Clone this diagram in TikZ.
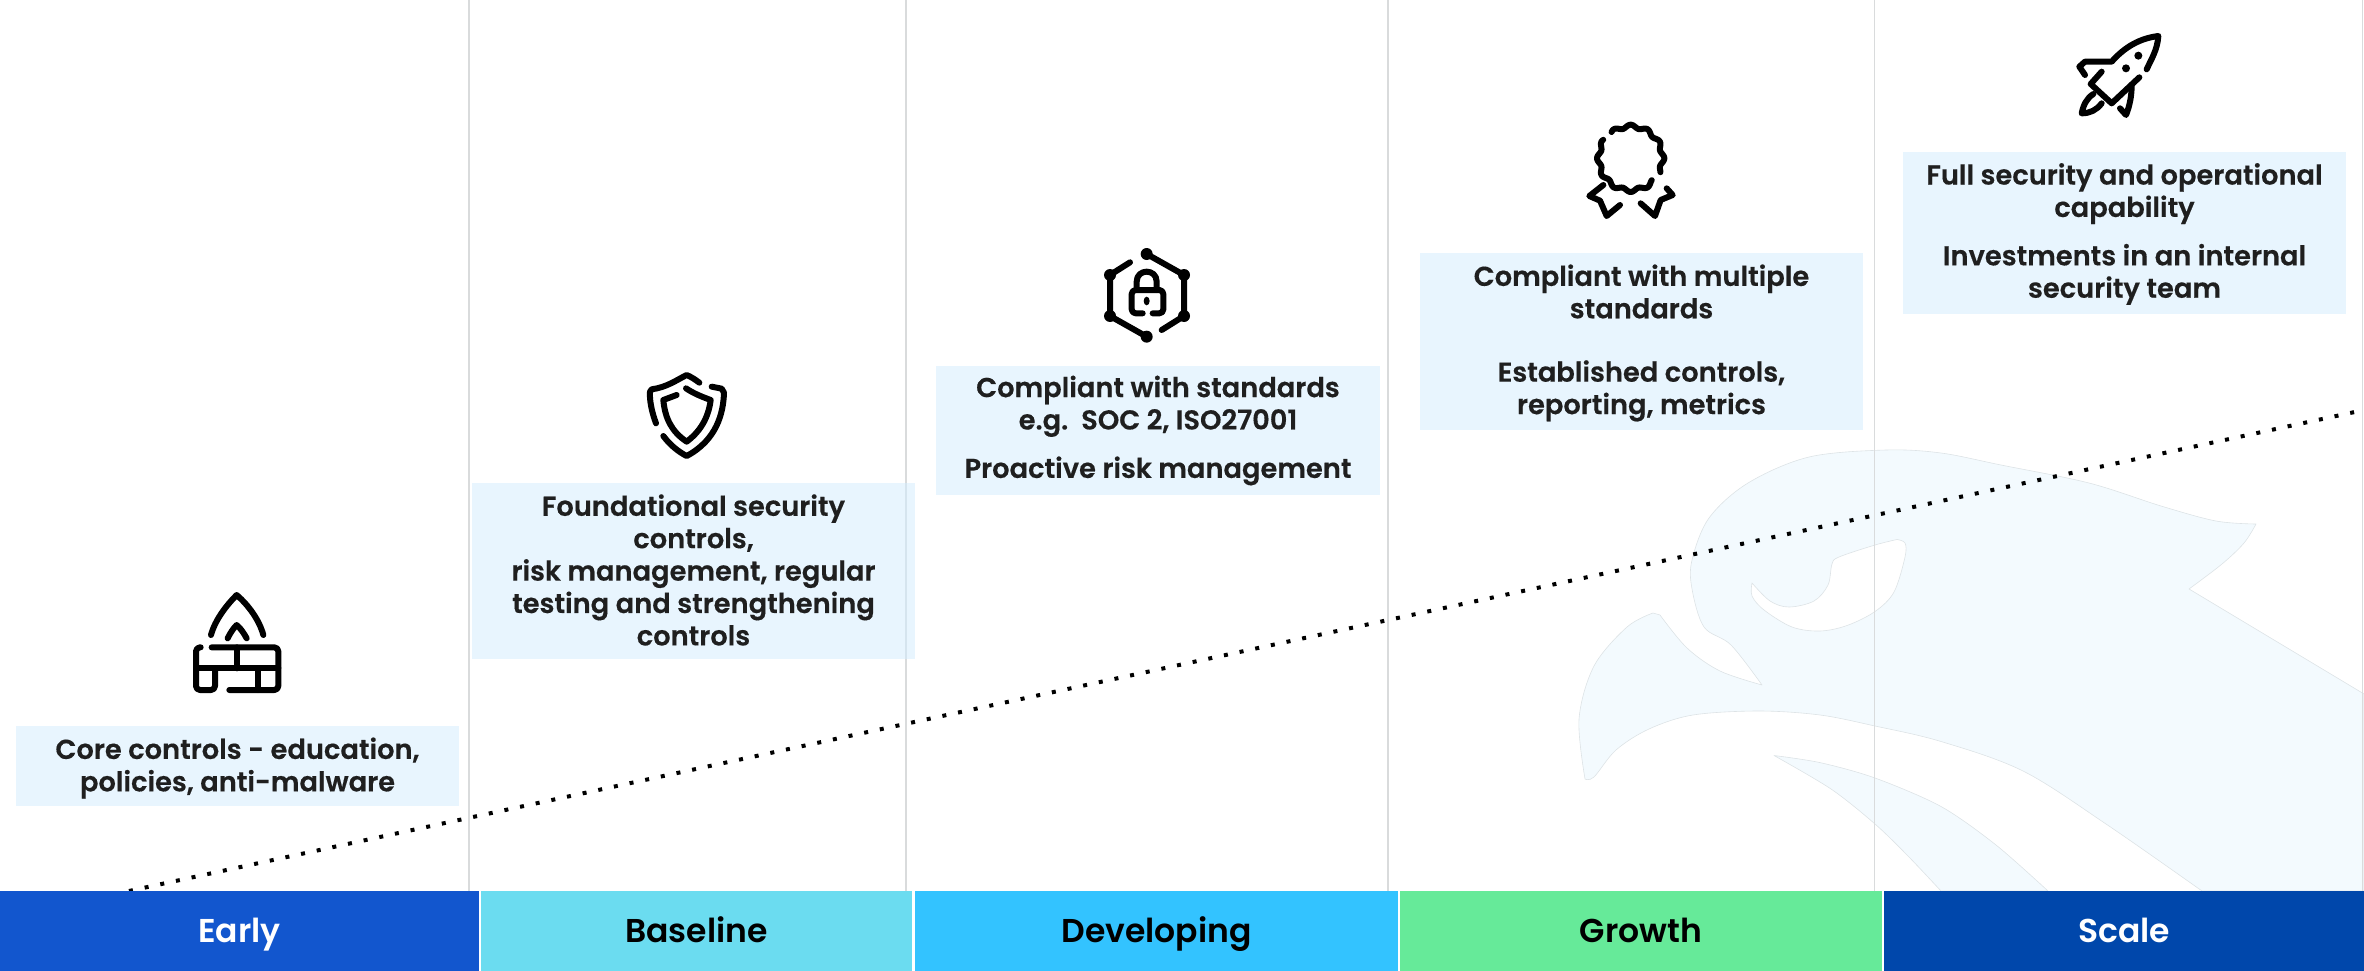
\documentclass[tikz,border=0pt]{standalone}
\usepackage{fontspec}
\setmainfont{Poppins}[UprightFont=* SemiBold,BoldFont=* SemiBold]
\newfontfamily\semifont{Poppins SemiBold}
\newfontfamily\heavyfont{Poppins SemiBold}[FakeBold=0.4]
\definecolor{boxblue}{HTML}{E8F5FE}
\definecolor{gridgrey}{HTML}{D9DBDC}
\definecolor{gridonbox}{HTML}{D5E4EE}
\definecolor{ink}{HTML}{1F1F1F}
\definecolor{eaglefill}{HTML}{F3FAFE}
\definecolor{eagleline}{HTML}{DDE3E6}
\definecolor{cEarly}{HTML}{1256CE}
\definecolor{cBase}{HTML}{6BDCF0}
\definecolor{cDev}{HTML}{33C3FF}
\definecolor{cGrowth}{HTML}{66EA99}
\definecolor{cScale}{HTML}{0047AB}
\tikzset{
 boxbg/.style={fill=boxblue,inner sep=0pt},
 textbox/.style={inner sep=0pt,align=center,text=ink,font=\heavyfont\fontsize{27.3}{32.4}\selectfont},
 stage/.style={inner sep=0pt,minimum height=80pt,text height=30pt,text depth=7pt,font=\semifont\fontsize{33}{36}\selectfont},
 gridline/.style={gridgrey,line width=1.6pt},
 eagle/.style={fill=eaglefill,draw=eagleline,line width=0.6pt,line join=round},
 iconline/.style={line width=6pt,line cap=round,line join=round,black},
 icon/.style={x=0.33333pt,y=-0.33333pt},
}
\begin{document}
\begin{tikzpicture}[x=1pt,y=-1pt]
\useasboundingbox (0,0) rectangle (2364,971);
% eagle
\path[eagle] plot[smooth,tension=.55] coordinates {(1585,779)(1579,719)(1594,666)(1627,627)(1653,613)}
 -- plot[smooth,tension=.55] coordinates {(1660,615)(1687,648)(1720,671)(1762,685)}
 -- plot[smooth,tension=.55] coordinates {(1762,685)(1731,645)(1704,627)(1692,589)(1692,560)(1709,518)(1748,483)(1809,457)(1886,450)(1941,453)(2001,465)(2089,483)(2161,506)(2216,521)(2256,524)}
 -- plot[smooth,tension=.55] coordinates {(2256,524)(2244,543)(2222,564)(2189,589)}
 -- (2364,694) -- (2364,891) -- (2202,891)
 -- plot[smooth,tension=.55] coordinates {(2202,891)(2106,824)(2023,771)(1941,741.5)(1875,726)(1820,715)(1759,711)(1693,715)(1649,729)(1616,750)(1594,777)(1585,779)} -- cycle;
\path[fill=white,draw=eagleline,line width=0.6pt] plot[smooth,tension=.55] coordinates {(1897,539.5)(1905,543)(1905,557)(1894,592)(1875,611.5)(1847,625.5)(1820,631)(1792,627)(1764,610)(1752,596)(1752,583)}
 -- plot[smooth,tension=.55] coordinates {(1752,583)(1770,601)(1789,607)(1814,601)(1828,585)(1832,564)(1839,557)(1875,545)(1897,539.5)} -- cycle;
\path[eagle] plot[smooth,tension=.5] coordinates {(1774,755.5)(1820,762.6)(1875,778)(1941,806.5)(1996,845)(2048,891)}
 -- plot[smooth,tension=.5] coordinates {(1941,891)(1908,856)(1875,824)(1831,789)(1774,755.5)} -- cycle;
% grid lines
\foreach \gx/\gn in {469/g1,906/g2,1388/g3,1874.5/g4,2362.5/g5}{
 \coordinate (\gn t) at (\gx,0);
 \coordinate (\gn b) at (\gx,891);
 \draw[gridline] (\gn t) -- (\gn b);
}
% trend line
\coordinate (trendA) at (129,891);
\coordinate (trendB) at (2364,410);
\draw[black,line width=4pt,dash pattern=on 4pt off 12pt] (trendA) -- (trendB);
% stages
\node[stage,fill=cEarly,text=white,minimum width=479pt] (early) at (239.5,931) {Early};
\node[stage,fill=cBase,text=black,minimum width=431pt] (baseline) at (696.5,931) {Baseline};
\node[stage,fill=cDev,text=black,minimum width=483pt] (developing) at (1156.5,931) {Developing};
\node[stage,fill=cGrowth,text=black,minimum width=482pt] (growth) at (1641,931) {Growth};
\node[stage,fill=cScale,text=white,minimum width=480pt] (scale) at (2124,931) {Scale};
% text boxes
\node[boxbg,minimum width=443pt,minimum height=80pt] (b1bg) at (237.5,766) {};
\node[boxbg,minimum width=443pt,minimum height=176pt] (b2bg) at (693.5,571) {};
\node[boxbg,minimum width=444pt,minimum height=129pt] (b3bg) at (1158,430.5) {};
\node[boxbg,minimum width=443pt,minimum height=177pt] (b4bg) at (1641.5,341.5) {};
\node[boxbg,minimum width=443pt,minimum height=162pt] (b5bg) at (2124.5,233) {};
\draw[gridonbox,line width=1.6pt] (b2bg.north -| g2t) -- (b2bg.south -| g2t);
\node[textbox] (b1) at (237.5,768) {Core controls - education,\\policies, anti-malware};
\node[textbox] (b2) at (693.5,570) {Foundational security\\controls,\\risk management, regular\\testing and strengthening\\controls};
\node[textbox] (b3) at (1158,430.5) {Compliant with standards\\e.g.\ \ SOC 2, ISO27001\\[16pt]Proactive risk management};
\node[textbox] (b4) at (1641.5,343) {Compliant with multiple\\standards\\[31pt]Established controls,\\reporting, metrics};
\node[textbox] (b5) at (2124.5,234) {Full security and operational\\capability\\[16pt]Investments in an internal\\security team};
% firewall icon
\begin{scope}[shift={(170,570)},icon]
 \draw[iconline] (123,195) .. controls (135,150) and (170,105) .. (200,75) .. controls (235,105) and (268,150) .. (280,195);
 \draw[iconline] (173,205) .. controls (180,190) and (190,175) .. (200,165) .. controls (212,175) and (222,190) .. (230,205);
 \draw[iconline,rounded corners=4pt] (92,232) -- (78,232) -- (78,360) -- (135,360) -- (135,295);
 \draw[iconline,rounded corners=4pt] (125,232) -- (325,232) -- (325,360) -- (178,360);
 \draw[iconline] (78,295) -- (325,295);
 \draw[iconline] (200,232) -- (200,295);
 \draw[iconline] (265,295) -- (265,360);
\end{scope}
% shield icon
\begin{scope}[shift={(620,350)},icon]
 \draw[iconline] (108,220) .. controls (95,185) and (88,150) .. (90,125) -- (95,118) .. controls (140,112) and (170,90) .. (200,75) .. controls (212,80) and (225,88) .. (238,98);
 \draw[iconline] (275,110) -- (305,116) -- (312,128) .. controls (310,190) and (290,270) .. (200,318) .. controls (175,305) and (150,285) .. (130,258);
 \draw[iconline] (170,135) -- (130,150) .. controls (135,205) and (155,245) .. (200,275) .. controls (240,245) and (265,205) .. (272,150) .. controls (245,140) and (220,130) .. (198,115);
\end{scope}
% lock icon
\begin{scope}[shift={(1080,230)},icon]
 \draw[iconline] (200,72) -- (312,135) -- (312,258) -- (245,300);
 \draw[iconline] (150,97) -- (90,135) -- (90,258) -- (200,320);
 \foreach \dx/\dy in {200/72,312/135,312/258,200/320,90/258,90/135}
  \fill[black] (\dx,\dy) circle[radius=18];
 \draw[iconline,rounded corners=4pt] (188,250) -- (155,250) -- (155,180) -- (250,180) -- (250,250) -- (218,250);
 \draw[iconline] (170,180) -- (170,155) .. controls (170,115) and (230,115) .. (230,155) -- (230,180);
 \fill[black] (200,213) ellipse[x radius=9,y radius=13];
\end{scope}
% badge icon
\begin{scope}[shift={(1570,110)},icon]
 \draw[iconline] plot[smooth,domain=126:-25,samples=70] ({182+(96+5*cos(12*\x))*cos(\x)},{145-(96+5*cos(12*\x))*sin(\x)});
 \draw[iconline] plot[smooth,domain=-46:-214,samples=70] ({182+(96+5*cos(12*\x))*cos(\x)},{145-(96+5*cos(12*\x))*sin(\x)});
 \draw[iconline] (100,225) -- (58,258) -- (90,272) -- (110,318) -- (150,285);
 \draw[iconline] (290,235) -- (308,255) -- (272,270) -- (255,318) -- (212,280);
\end{scope}
% rocket icon
\begin{scope}[shift={(2050,20)},icon]
 \draw[iconline] (290,148) .. controls (305,115) and (322,90) .. (325,48) .. controls (270,55) and (225,80) .. (185,125) -- (105,125) -- (88,140) -- (105,165);
 \draw[iconline] (155,155) -- (122,192) -- (185,250) -- (268,172);
 \draw[iconline] (245,195) .. controls (245,225) and (240,255) .. (228,285) -- (210,265);
 \draw[iconline] (130,222) .. controls (110,235) and (100,255) .. (95,280) .. controls (120,280) and (140,270) .. (155,250);
 \fill[black] (265,107) circle[radius=12];
 \fill[black] (228,145) circle[radius=12];
\end{scope}
\end{tikzpicture}
\end{document}
